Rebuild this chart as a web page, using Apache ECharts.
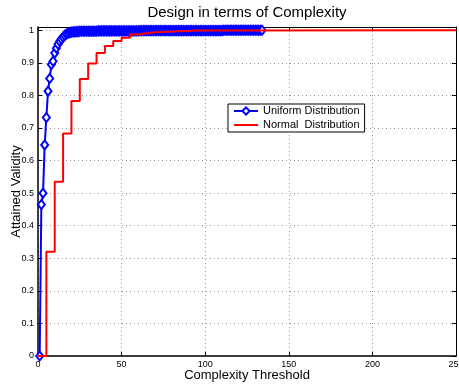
<!DOCTYPE html>
<html>
<head>
<meta charset="utf-8">
<script src="https://cdn.jsdelivr.net/npm/echarts@6/dist/echarts.min.js"></script>
<style>
    html, body { margin: 0; padding: 0; background: #fff; }
    #chart { width: 459px; height: 385px; }
</style>
</head>
<body>
<div id="chart"></div>
<script>
// uniform distribution: one value per threshold, starting at threshold 1
var uniformStart = 1;
var uniformValues = [
    0, 0.465, 0.500, 0.648, 0.732, 0.813, 0.852, 0.895, 0.905, 0.930,
    0.945, 0.957, 0.966, 0.973, 0.979, 0.984, 0.988, 0.991, 0.993, 0.994,
    0.995, 0.995, 0.996, 0.996, 0.997, 0.997, 0.997, 0.997, 0.997, 0.997,
    0.997, 0.997, 0.997, 0.997, 0.997, 0.998, 0.998, 0.998, 0.998, 0.998,
    0.998, 0.998, 0.998, 0.998, 0.998, 0.998, 0.998, 0.998, 0.998, 0.998,
    0.998, 0.998, 0.998, 0.998, 0.998, 0.998, 0.998, 0.998, 0.998, 0.998,
    0.999, 0.999, 0.999, 0.999, 0.999, 0.999, 0.999, 0.999, 0.999, 0.999,
    0.999, 0.999, 0.999, 0.999, 0.999, 0.999, 0.999, 0.999, 0.999, 0.999,
    0.999, 0.999, 0.999, 0.999, 0.999, 0.999, 0.999, 0.999, 0.999, 0.999,
    0.999, 0.999, 0.999, 0.999, 0.999, 0.999, 0.999, 0.999, 0.999, 0.999,
    0.999, 0.999, 0.999, 0.999, 0.999, 0.999, 0.999, 0.999, 0.999, 0.999,
    1, 1, 1, 1, 1, 1, 1, 1, 1, 1,
    1, 1, 1, 1, 1, 1, 1, 1, 1, 1,
    1, 1, 1, 1
];
// normal distribution: staircase
var normalX = [0, 5, 10, 15, 20, 25, 30, 35, 40, 45, 50, 55, 60, 65, 70, 75, 80, 85, 90, 95, 100, 250];
var normalY = [0, 0.32, 0.535, 0.683, 0.783, 0.85, 0.898, 0.93, 0.952, 0.967, 0.977, 0.987, 0.991, 0.994, 0.995, 0.996, 0.997, 0.998, 0.999, 0.999, 1, 1];

var xTicks = { min: 0, max: 250, interval: 50 };
var yTicks = { min: 0, max: 1.01, interval: 0.1 };

var font = "'Liberation Sans', Arial, Helvetica, sans-serif";

function pairs(xs, ys) {
    var out = [];
    for (var i = 0; i < ys.length; i++) {
        out.push([xs[i], ys[i]]);
    }
    return out;
}

function uniformPairs() {
    var out = [];
    for (var i = 0; i < uniformValues.length; i++) {
        out.push([uniformStart + i, uniformValues[i]]);
    }
    return out;
}

function loadChart() {
    var chart = echarts.init(document.getElementById("chart"), null, { renderer: "canvas" });
    var gridLine = { show: true, lineStyle: { color: "#9a9a9a", width: 1, type: [1, 3] } };
    var option = {
        backgroundColor: "#fff",
        animation: false,
        title: {
            text: "Design in terms of Complexity",
            left: 247, top: 5, textAlign: "center", padding: 0,
            textStyle: { fontFamily: font, fontSize: 15, fontWeight: "normal", color: "#000" }
        },
        legend: {
            orient: "vertical",
            left: 228, top: 104,
            padding: [1, 5, 1, 5],
            itemGap: 2,
            itemWidth: 24, itemHeight: 9,
            backgroundColor: "#fff",
            borderColor: "#000", borderWidth: 1,
            textStyle: { fontFamily: font, fontSize: 11, color: "#000", lineHeight: 12 },
            data: ["Uniform Distribution", { name: "Normal  Distribution", itemStyle: { opacity: 0 } }]
        },
        grid: { left: 38, right: 3, top: 27, bottom: 29, containLabel: false, outerBoundsMode: "none" },
        xAxis: [{
            type: "value",
            min: xTicks.min, max: xTicks.max, interval: xTicks.interval,
            name: "Complexity Threshold",
            nameLocation: "middle", nameGap: 13, nameMoveOverlap: false,
            nameTextStyle: { fontFamily: font, fontSize: 13, color: "#000" },
            axisLine: { show: true, onZero: false, lineStyle: { color: "#000", width: 1.5 } },
            axisTick: { show: true, inside: true, length: 4, lineStyle: { color: "#000" } },
            axisLabel: { fontFamily: font, fontSize: 9, color: "#000", margin: 4 },
            splitLine: gridLine
        }, {
            type: "value", position: "top",
            min: xTicks.min, max: xTicks.max, interval: xTicks.interval,
            axisLine: { show: true, onZero: false, lineStyle: { color: "#000", width: 1 } },
            axisTick: { show: true, inside: true, length: 4, lineStyle: { color: "#000" } },
            axisLabel: { show: false },
            splitLine: { show: false }
        }],
        yAxis: [{
            type: "value",
            min: yTicks.min, max: yTicks.max, interval: yTicks.interval,
            name: "Attained Validity",
            nameLocation: "middle", nameGap: 15, nameMoveOverlap: false,
            nameTextStyle: { fontFamily: font, fontSize: 13, color: "#000" },
            axisLine: { show: true, onZero: false, lineStyle: { color: "#000", width: 1.5 } },
            axisTick: { show: true, inside: true, length: 4, lineStyle: { color: "#000" } },
            axisLabel: { fontFamily: font, fontSize: 9, color: "#000", margin: 4, showMaxLabel: false },
            splitLine: gridLine
        }, {
            type: "value", position: "right",
            min: yTicks.min, max: yTicks.max, interval: yTicks.interval,
            axisLine: { show: true, onZero: false, lineStyle: { color: "#000", width: 1 } },
            axisTick: { show: true, inside: true, length: 4, lineStyle: { color: "#000" } },
            axisLabel: { show: false },
            splitLine: { show: false }
        }],
        series: [{
            name: "Uniform Distribution",
            type: "line",
            data: uniformPairs(),
            symbol: "emptyDiamond",
            symbolSize: [7, 9],
            showAllSymbol: true,
            color: "#0000ff",
            lineStyle: { color: "#0000ff", width: 2 },
            itemStyle: { color: "#0000ff", borderWidth: 1.5 },
            z: 2
        }, {
            name: "Normal  Distribution",
            type: "line",
            step: "end",
            data: pairs(normalX, normalY),
            symbol: "none",
            color: "#ff0000",
            lineStyle: { color: "#ff0000", width: 2 },
            z: 3
        }]
    };
    chart.setOption(option);
}

loadChart();
</script>
</body>
</html>
